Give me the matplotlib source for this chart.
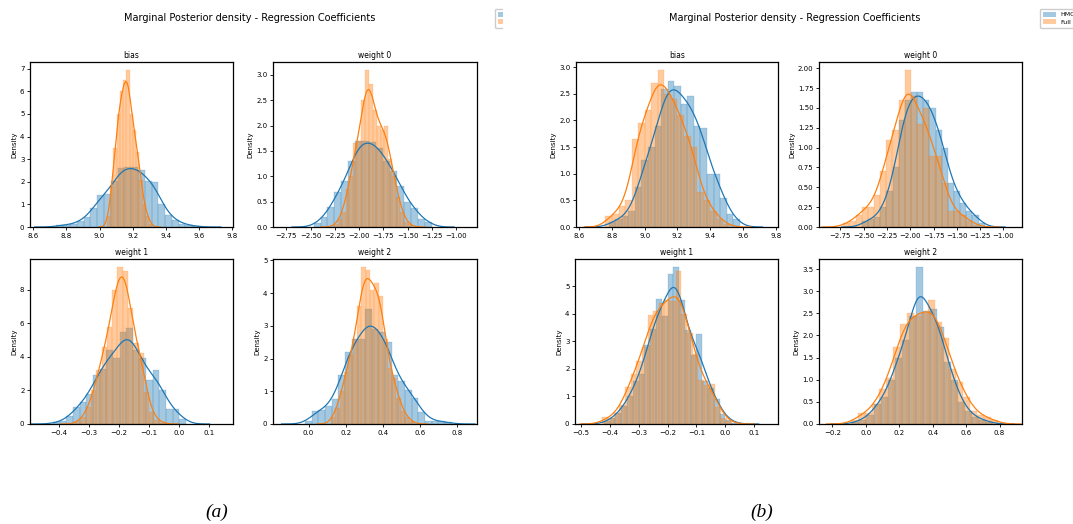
import numpy as np
import matplotlib
matplotlib.use("Agg")
import matplotlib.pyplot as plt
from matplotlib.patches import Patch, Rectangle
from matplotlib.ticker import MultipleLocator

# ---------------------------------------------------------------- data
suptitle_text = "Marginal Posterior density - Regression Coefficients"
series_labels = ["HMC", "Full"]
panel_titles = ["bias", "weight 0", "weight 1", "weight 2"]
captions = ["(a)", "(b)"]

# Each histogram: first bin edge, bin width, density per bin.
# Panel (a)
a_bias_hmc_start, a_bias_hmc_width = 8.74, 0.041
a_bias_hmc = [0.08, 0.10, 0.12, 0.25, 0.45, 0.85, 1.40, 1.45, 2.05, 2.60, 2.65,
              2.65, 2.50, 2.05, 2.00, 1.00, 0.55, 0.30, 0.15, 0.08, 0.04]
a_bias_full_start, a_bias_full_width = 9.045, 0.0195
a_bias_full = [0.5, 1.8, 3.5, 5.0, 6.0, 6.5, 6.95, 5.0, 4.3, 3.3, 2.1, 1.0, 0.5, 0.15]

a_w0_hmc_start, a_w0_hmc_width = -2.47, 0.072
a_w0_hmc = [0.08, 0.2, 0.4, 0.7, 0.9, 1.3, 1.7, 1.7, 1.68, 1.55, 1.3, 1.1, 0.8,
            0.5, 0.38, 0.15, 0.1]
a_w0_full_start, a_w0_full_width = -2.26, 0.04
a_w0_full = [0.05, 0.15, 0.3, 0.75, 1.0, 1.65, 1.7, 2.5, 3.1, 2.83, 2.3, 2.0,
             1.92, 2.0, 1.35, 1.0, 0.6, 0.3, 0.1, 0.05]

a_w1_hmc_start, a_w1_hmc_width = -0.418, 0.022
a_w1_hmc = [0.1, 0.15, 0.45, 1.0, 1.3, 1.8, 2.9, 3.3, 4.4, 3.9, 5.5, 5.7, 4.4,
            3.9, 2.6, 3.2, 2.0, 0.9, 0.9, 0.3]
a_w1_full_start, a_w1_full_width = -0.345, 0.0175
a_w1_full = [0.15, 0.4, 1.0, 2.0, 3.2, 4.6, 5.8, 8.0, 9.35, 9.1, 6.9, 4.8, 4.2,
             1.9, 0.7, 0.25, 0.08]

a_w2_hmc_start, a_w2_hmc_width = -0.02, 0.036
a_w2_hmc = [0.08, 0.4, 0.42, 0.55, 0.75, 1.5, 2.2, 2.6, 2.6, 3.5, 2.9, 2.8, 2.5,
            1.5, 1.3, 1.05, 0.8, 0.38, 0.1, 0.1, 0.08, 0.05]
a_w2_full_start, a_w2_full_width = 0.12, 0.0235
a_w2_full = [0.2, 0.5, 1.0, 1.6, 2.1, 2.6, 3.6, 4.8, 4.7, 4.1, 4.3, 3.9, 2.6,
             1.7, 1.4, 0.8, 0.4, 0.2, 0.08]

# Panel (b)
b_bias_hmc_start, b_bias_hmc_width = 8.78, 0.04
b_bias_hmc = [0.1, 0.15, 0.2, 0.3, 0.75, 1.25, 1.5, 1.9, 2.6, 2.75, 2.65, 2.3,
              2.45, 1.9, 1.85, 1.0, 1.0, 0.55, 0.25, 0.15]
b_bias_full_start, b_bias_full_width = 8.76, 0.04
b_bias_full = [0.2, 0.25, 0.4, 0.5, 1.65, 1.95, 2.2, 2.7, 2.95, 2.5, 2.4, 2.1,
               1.7, 1.5, 0.65, 0.5, 0.3, 0.15, 0.05]

b_w0_hmc_start, b_w0_hmc_width = -2.52, 0.066
b_w0_hmc = [0.08, 0.1, 0.12, 0.25, 0.45, 0.75, 1.35, 1.6, 1.7, 1.7, 1.6, 1.5,
            1.22, 1.0, 0.55, 0.45, 0.3, 0.2, 0.15, 0.05]
b_w0_full_start, b_w0_full_width = -2.72, 0.066
b_w0_full = [0.05, 0.08, 0.15, 0.25, 0.25, 0.4, 0.7, 1.1, 1.22, 1.6, 1.98, 1.65,
             1.3, 1.5, 0.9, 0.9, 0.55, 0.2, 0.2, 0.15, 0.08, 0.03]

b_w1_hmc_start, b_w1_hmc_width = -0.42, 0.02
b_w1_hmc = [0.1, 0.2, 0.4, 0.65, 1.0, 1.55, 1.8, 2.85, 3.45, 4.55, 3.9, 5.45,
            5.7, 4.5, 3.4, 2.5, 3.25, 1.55, 1.3, 0.9, 0.35, 0.15, 0.05]
b_w1_full_start, b_w1_full_width = -0.425, 0.0195
b_w1_full = [0.25, 0.2, 0.4, 0.7, 1.35, 1.8, 2.3, 2.8, 3.95, 4.1, 4.4, 4.5, 4.45,
             5.55, 4.0, 3.3, 2.55, 1.6, 1.4, 1.45, 0.6, 0.2, 0.1]

b_w2_hmc_start, b_w2_hmc_width = -0.08, 0.042
b_w2_hmc = [0.05, 0.1, 0.2, 0.45, 0.6, 1.0, 1.5, 1.9, 2.45, 3.55, 2.55, 2.6,
            2.2, 1.4, 1.0, 0.5, 0.3, 0.15, 0.1, 0.05]
b_w2_full_start, b_w2_full_width = -0.09, 0.042
b_w2_full = [0.08, 0.25, 0.25, 0.45, 0.8, 1.05, 1.75, 2.25, 2.5, 2.45, 2.5, 2.8,
             2.3, 1.95, 1.25, 0.95, 0.6, 0.3, 0.2, 0.15, 0.08]

# ---------------------------------------------------------------- style
BLUE, ORANGE = "#1f77b4", "#ff7f0e"
W, H = 1073, 524

plt.rcParams.update({
    "font.family": "DejaVu Sans",
    "xtick.labelsize": 5,
    "ytick.labelsize": 5,
    "xtick.major.size": 2.5,
    "ytick.major.size": 2.5,
    "xtick.major.width": 0.6,
    "ytick.major.width": 0.6,
    "axes.linewidth": 0.9,
})


def smooth_density(start, width, dens, bw_factor=0.32, cut=3, n=300):
    """Gaussian kernel density built from the binned sample (keeps bar area)."""
    dens = np.asarray(dens, float)
    centers = start + width * (np.arange(len(dens)) + 0.5)
    mass = dens * width
    p = mass / mass.sum()
    mu = (centers * p).sum()
    sd = np.sqrt(((centers - mu) ** 2 * p).sum())
    bw = bw_factor * sd
    s = np.sqrt(bw ** 2 + width ** 2 / 12.0)
    xs = np.linspace(start - cut * bw, start + width * len(dens) + cut * bw, n)
    z = (xs[None, :] - centers[:, None]) / s
    pdf = (mass[:, None] * np.exp(-0.5 * z ** 2)).sum(0) / (s * np.sqrt(2 * np.pi))
    return xs, pdf


def draw_hist(ax, start, width, dens, color):
    dens = np.asarray(dens, float)
    lefts = start + width * np.arange(len(dens))
    ax.bar(lefts, dens, width=width, align="edge", color=color, alpha=0.4,
           edgecolor=color, linewidth=0.3)
    xs, pdf = smooth_density(start, width, dens)
    ax.plot(xs, pdf, color=color, lw=0.9)


def px_axes(fig, x0, y0, x1, y1):
    return fig.add_axes([x0 / W, 1 - y1 / H, (x1 - x0) / W, (y1 - y0) / H])


fig = plt.figure(figsize=(W / 100, H / 100), dpi=100)

panels = {
    "a": {
        "hists": [
            ((a_bias_hmc_start, a_bias_hmc_width, a_bias_hmc),
             (a_bias_full_start, a_bias_full_width, a_bias_full)),
            ((a_w0_hmc_start, a_w0_hmc_width, a_w0_hmc),
             (a_w0_full_start, a_w0_full_width, a_w0_full)),
            ((a_w1_hmc_start, a_w1_hmc_width, a_w1_hmc),
             (a_w1_full_start, a_w1_full_width, a_w1_full)),
            ((a_w2_hmc_start, a_w2_hmc_width, a_w2_hmc),
             (a_w2_full_start, a_w2_full_width, a_w2_full)),
        ],
        "boxes": [(30, 62, 233, 227), (273, 62, 477, 227),
                  (30, 259, 233, 424), (273, 259, 477, 424)],
        "xlims": [(8.58, 9.806), (-2.887, -0.787), (-0.495, 0.178), (-0.192, 0.908)],
        "xsteps": [0.2, 0.25, 0.1, 0.2],
        "ysteps": [1, 0.5, 2, 1],
        "offset": 0,
        "caption": captions[0],
    },
    "b": {
        "hists": [
            ((b_bias_hmc_start, b_bias_hmc_width, b_bias_hmc),
             (b_bias_full_start, b_bias_full_width, b_bias_full)),
            ((b_w0_hmc_start, b_w0_hmc_width, b_w0_hmc),
             (b_w0_full_start, b_w0_full_width, b_w0_full)),
            ((b_w1_hmc_start, b_w1_hmc_width, b_w1_hmc),
             (b_w1_full_start, b_w1_full_width, b_w1_full)),
            ((b_w2_hmc_start, b_w2_hmc_width, b_w2_hmc),
             (b_w2_full_start, b_w2_full_width, b_w2_full)),
        ],
        "boxes": [(576, 62, 778, 227), (819, 62, 1022, 227),
                  (575, 259, 778, 424), (819, 259, 1022, 424)],
        "xlims": [(8.58, 9.814), (-2.98, -0.80), (-0.52, 0.182), (-0.28, 0.934)],
        "xsteps": [0.2, 0.25, 0.1, 0.2],
        "ysteps": [0.5, 0.25, 1, 0.5],
        "offset": 545,
        "caption": captions[1],
    },
}

for key, p in panels.items():
    for i, (hists, box) in enumerate(zip(p["hists"], p["boxes"])):
        ax = px_axes(fig, *box)
        top = 0
        for (start, width, dens), color in zip(hists, [BLUE, ORANGE]):
            draw_hist(ax, start, width, dens, color)
            top = max(top, max(dens))
        ax.set_xlim(*p["xlims"][i])
        ax.set_ylim(0, top * 1.05)
        ax.xaxis.set_major_locator(MultipleLocator(p["xsteps"][i]))
        ax.yaxis.set_major_locator(MultipleLocator(p["ysteps"][i]))
        ax.set_title(panel_titles[i], fontsize=5.5, pad=3)
        ax.set_ylabel("Density", fontsize=5, labelpad=2)
        ax.tick_params(pad=1.5)

    off = p["offset"]
    fig.text((250 + off) / W, 1 - 18 / H, suptitle_text, ha="center", va="center",
             fontsize=7)
    handles = [Patch(facecolor=BLUE, alpha=0.4), Patch(facecolor=ORANGE, alpha=0.4)]
    fig.legend(handles, series_labels, loc="upper left",
               bbox_to_anchor=((492 + off) / W, 1 - 6 / H), fontsize=4.5,
               handlelength=2.2, handleheight=0.9, borderpad=0.4,
               labelspacing=0.3, handletextpad=0.6, framealpha=1,
               edgecolor="#cccccc")
    fig.text((217 + off) / W, 1 - 512 / H, p["caption"],
             ha="center", va="center", fontsize=14, style="italic",
             family=["Liberation Serif", "DejaVu Serif"])

# panel (a) is trimmed on its right-hand side
fig.patches.append(Rectangle((503 / W, 0), 42 / W, 1, transform=fig.transFigure,
                             facecolor="white", edgecolor="none", zorder=20))

fig.savefig("out.png", dpi=100)
